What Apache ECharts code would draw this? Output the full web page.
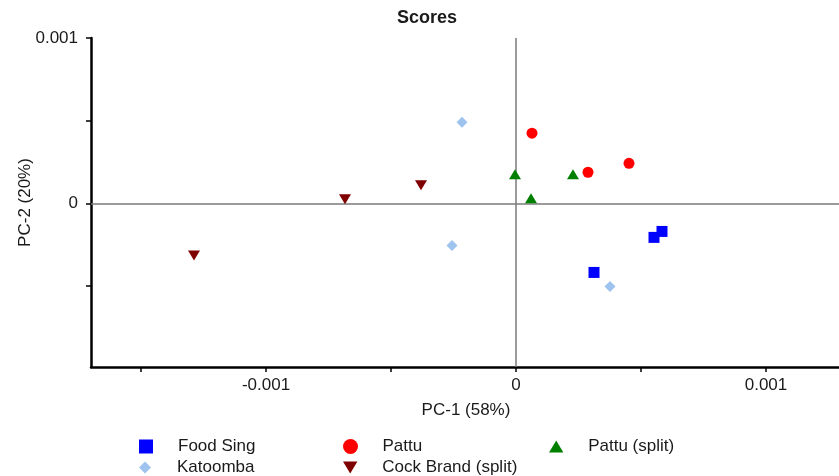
<!DOCTYPE html>
<html>
<head>
<meta charset="utf-8">
<script src="https://cdn.jsdelivr.net/npm/echarts@6/dist/echarts.min.js"></script>
<style>
  html, body { margin: 0; padding: 0; background: #fff; }
  #scores_chart { width: 839px; height: 476px; }
</style>
</head>
<body>
<div id="scores_chart"></div>
<script>
// PCA score values, [PC-1, PC-2]
var foodSing = [[0.000552, -0.000206], [0.000584, -0.000170], [0.000312, -0.000418]]
var katoomba = [[-0.000216, 0.000491], [-0.000256, -0.000255], [0.000376, -0.000503]]
var pattu = [[0.000064, 0.000424], [0.000288, 0.000188], [0.000452, 0.000242]]
var pattuSplit = [[-0.000004, 0.000176], [0.000228, 0.000176], [0.000060, 0.000030]]
var cockBrand = [[-0.000684, 0.000024], [-0.000380, 0.000109], [-0.001288, -0.000315]]

var seriesNames = ['Food Sing', 'Katoomba', 'Pattu', 'Cock Brand (split)', 'Pattu (split)']
var xRange = [-0.0017, 0.0013]
var yRange = [-0.00099, 0.001]
var xTicks = [-0.0015, -0.001, -0.0005, 0, 0.0005, 0.001]
var xTickLabels = [-0.001, 0, 0.001]
var yTicks = [-0.0005, 0, 0.0005, 0.001]
var yTickLabels = [0, 0.001]

var FONT = 'Liberation Sans, Arial, sans-serif'
var TEXT_COLOR = '#1a1a1a'

function tickLabel (v) {
  if (Math.abs(v) < 1e-9) return '0'
  return v.toFixed(3)
}

function axisBase (min, max, ticks, labels) {
  return {
    type: 'value',
    min: min,
    max: max,
    splitLine: { show: false },
    axisLine: { onZero: false, lineStyle: { color: '#000', width: 2.5 } },
    axisTick: { length: 5, customValues: ticks, lineStyle: { color: '#000', width: 1.5 } },
    axisLabel: {
      customValues: labels,
      color: TEXT_COLOR,
      fontFamily: FONT,
      fontSize: 17,
      formatter: tickLabel,
    },
    nameLocation: 'middle',
    nameMoveOverlap: false,
    nameTextStyle: { color: TEXT_COLOR, fontFamily: FONT, fontSize: 17 },
  }
}

var xAxis = axisBase(xRange[0], xRange[1], xTicks, xTickLabels)
xAxis.name = 'PC-1 (58%)'
xAxis.nameGap = 35
xAxis.axisLabel.margin = 10

var yAxis = axisBase(yRange[0], yRange[1], yTicks, yTickLabels)
yAxis.name = 'PC-2 (20%)'
yAxis.nameGap = 57
yAxis.axisLabel.margin = 13

var ICON = {
  square: 'path://M0,0H10V10H0Z',
  circle: 'path://M5,0A5,5 0 1,1 5,10A5,5 0 1,1 5,0Z',
  diamond: 'path://M5,0L10,5L5,10L0,5Z',
  up: 'path://M6,0L12,10L0,10Z',
  down: 'path://M0,0L12,0L6,10Z',
}

function legendItem (name, icon, left, top, size) {
  return {
    left: left,
    top: top,
    padding: 0,
    itemWidth: 54,
    itemHeight: size,
    selectedMode: false,
    data: [{ name: name, icon: icon }],
    textStyle: { color: TEXT_COLOR, fontFamily: FONT, fontSize: 17 },
  }
}

function scatter (name, data, color, symbol, size) {
  return {
    name: name,
    type: 'scatter',
    data: data,
    symbol: symbol,
    symbolSize: size,
    itemStyle: { color: color, opacity: 1 },
    z: 3,
  }
}

var series = [
  scatter(seriesNames[0], foodSing, '#0000ff', 'rect', 11),
  scatter(seriesNames[1], katoomba, '#9dc3ee', 'diamond', 11),
  scatter(seriesNames[2], pattu, '#ff0000', 'circle', 11),
  scatter(seriesNames[3], cockBrand, '#7f0000', ICON.down, [12, 10]),
  scatter(seriesNames[4], pattuSplit, '#007f00', ICON.up, [12, 10]),
]

// zero lines through the origin
series[0].markLine = {
  silent: true,
  z: 1,
  symbol: 'none',
  label: { show: false },
  lineStyle: { color: '#7a7a7a', width: 1.5, type: 'solid' },
  data: [{ xAxis: 0 }, { yAxis: 0 }],
}

var option = {
  animation: false,
  backgroundColor: '#fff',
  title: {
    text: 'Scores',
    left: 397,
    top: 9,
    padding: 0,
    textStyle: { color: TEXT_COLOR, fontFamily: FONT, fontSize: 18, fontWeight: 'bold' },
  },
  grid: { left: 91, top: 38, width: 750, height: 329, containLabel: false, outerBoundsMode: 'none' },
  xAxis: xAxis,
  yAxis: yAxis,
  legend: [
    legendItem('Food Sing', ICON.square, 139, 438, 14),
    legendItem('Katoomba', ICON.diamond, 139, 459, 12),
    legendItem('Pattu', ICON.circle, 343, 438, 15),
    legendItem('Cock Brand (split)', ICON.down, 343, 459, 12),
    legendItem('Pattu (split)', ICON.up, 549, 438, 12),
  ],
  series: series,
}

var myChart = echarts.init(document.getElementById('scores_chart'))
myChart.setOption(option)
window.onresize = myChart.resize
</script>
</body>
</html>
